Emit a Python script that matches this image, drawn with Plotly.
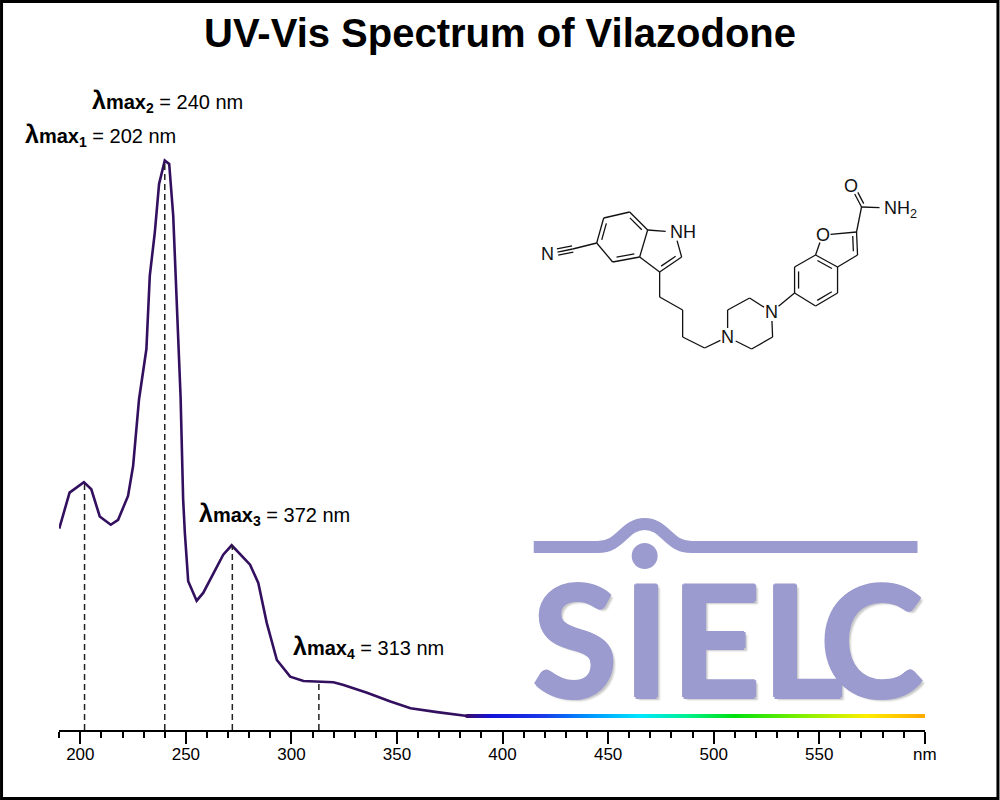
import numpy as np
import plotly.graph_objects as go

# spectrum (absorbance normalised to the 240 nm peak)
wavelength = [190, 194.9, 201.7, 205.2, 209.2, 214.4, 217.9, 222.6, 225.0, 227.8, 231.3, 232.9,
              235.3, 237.3, 240.0, 242.1, 244.0, 245.6, 247.5, 248.7, 249.5, 251.1, 255.1, 258.2,
              263.0, 267.7, 271.7, 276.4, 280.4, 284.3, 288.3, 293.1, 299.4, 305.7, 314.4, 319.9,
              324.7, 335.8, 346.9, 356.4, 369.0, 383.3]
absorbance = [0.338, 0.403, 0.422, 0.409, 0.360, 0.345, 0.354, 0.397, 0.451, 0.571, 0.662, 0.794,
              0.873, 0.960, 1.002, 0.996, 0.903, 0.758, 0.575, 0.391, 0.331, 0.243, 0.208, 0.222,
              0.258, 0.291, 0.308, 0.288, 0.273, 0.240, 0.168, 0.101, 0.071, 0.063, 0.062, 0.061,
              0.056, 0.042, 0.026, 0.014, 0.007, 0.0]

# lambda max markers
peak_nm = [202, 240, 272, 313]
peak_abs = [0.422, 1.0, 0.308, 0.062]
peak_text = ['202 nm', '240 nm', '372 nm', '313 nm']

# visible part of the baseline and its colours
vis_start, vis_end = 383.3, 600
vis_stop_nm = [383.3, 395, 420, 440, 466, 488, 510, 542, 573, 600]
vis_stop_color = ['#3a0c6b', '#1512d8', '#1a3ae8', '#0090ff', '#00e8ff', '#00f090',
                  '#00e010', '#80f000', '#ffee00', '#ffaa00']

tick_vals = [200, 250, 300, 350, 400, 450, 500, 550, 600]
tick_text = ['200', '250', '300', '350', '400', '450', '500', '550', 'nm']

# page geometry (px)
W, H = 1000, 800
ML, MR, MT, MB = 59, 74.5, 60, 70
PW, PH = W - ML - MR, H - MT - MB
Y0 = -14 / 554.3
Y1 = (716 - MT) / 554.3


def pp(x, y):
    """page pixels -> paper coords"""
    return (x - ML) / PW, (MT + PH - y) / PH


def seg(p, q, color='#111111', width=1.3):
    x0, y0 = pp(*p)
    x1, y1 = pp(*q)
    return dict(type='line', xref='paper', yref='paper', x0=x0, y0=y0, x1=x1, y1=y1,
                line=dict(color=color, width=width), layer='above')


def trim(p, q, a=0, b=0):
    p, q = np.array(p, float), np.array(q, float)
    d = q - p
    n = d / np.linalg.norm(d)
    return tuple(p + n * a), tuple(q - n * b)


def inner(p, q, c, off=4.0, f=0.17):
    p, q, c = np.array(p, float), np.array(q, float), np.array(c, float)
    d = q - p
    nrm = np.array([-d[1], d[0]]) / np.linalg.norm(d)
    if np.dot(c - (p + q) / 2, nrm) < 0:
        nrm = -nrm
    return tuple(p + d * f + nrm * off), tuple(q - d * f + nrm * off)


def side(p, q, off):
    p, q = np.array(p, float), np.array(q, float)
    d = q - p
    nrm = np.array([-d[1], d[0]]) / np.linalg.norm(d)
    return tuple(p + nrm * off), tuple(q + nrm * off)


fig = go.Figure()

fig.add_trace(go.Scatter(x=wavelength, y=absorbance, mode='lines',
                         line=dict(color='#33105f', width=2.6), hoverinfo='skip'))

# rainbow baseline for the visible range
vis_nm = np.arange(vis_start, vis_end + 0.01, 0.5)
vis_abs = np.zeros(len(vis_nm))
scale = [[(v - vis_start) / (vis_end - vis_start), c] for v, c in zip(vis_stop_nm, vis_stop_color)]
fig.add_trace(go.Scatter(x=vis_nm, y=vis_abs, mode='markers',
                         marker=dict(symbol='square', size=3.6, color=vis_nm, colorscale=scale,
                                     cmin=vis_start, cmax=vis_end, line=dict(width=0)),
                         hoverinfo='skip'))

for nm, a in zip(peak_nm, peak_abs):
    fig.add_trace(go.Scatter(x=[nm, nm], y=[Y0, a], mode='lines',
                             line=dict(color='#222222', width=1.5, dash='6px,4px'),
                             hoverinfo='skip'))

# lambda max labels (page px of left edge / vertical centre)
label_pos = [(23, 135), (90, 101), (197, 514), (291, 647)]
for i, ((lx, ly), txt) in enumerate(zip(label_pos, peak_text)):
    x, y = pp(lx, ly)
    fig.add_annotation(x=x, y=y, xref='paper', yref='paper', xanchor='left', yanchor='middle',
                       showarrow=False,
                       text="<b><span style='font-size:25px'>λ</span>max<sub>%d</sub></b> = %s" % (i + 1, txt),
                       font=dict(family='Liberation Sans, Arial', size=20, color='#000000'))

shapes = []

# ---- SIELC logo ----
logo = '#9b9bcf'
path = 'M %f %f' % pp(534, 547)
path += ' L %f %f' % pp(598, 547)
path += ' C %f %f %f %f %f %f' % (*pp(622, 547), *pp(624, 524), *pp(645, 524))
path += ' C %f %f %f %f %f %f' % (*pp(666, 524), *pp(668, 547), *pp(692, 547))
path += ' L %f %f' % pp(918, 547)
shapes.append(dict(type='path', xref='paper', yref='paper', path=path,
                   line=dict(color=logo, width=12), layer='below'))
cx0, cy0 = pp(632, 543)
cx1, cy1 = pp(658, 569)
shapes.append(dict(type='circle', xref='paper', yref='paper', x0=cx0, y0=cy1, x1=cx1, y1=cy0,
                   fillcolor=logo, line=dict(width=0), layer='below'))
bold_shadow = ('1.5px 0 0 %s, -1.5px 0 0 %s, 0 1.5px 0 %s, 0 -1.5px 0 %s, '
               '3px 3px 2px rgba(0,0,0,0.22)') % (logo, logo, logo, logo)
for ch, cx in [('S', 575), ('I', 646), ('E', 716), ('L', 803), ('C', 872)]:
    x, y = pp(cx, 636)
    fig.add_annotation(x=x, y=y, xref='paper', yref='paper', xanchor='center', yanchor='middle',
                       showarrow=False, text=ch,
                       font=dict(family='Lato, Liberation Sans', size=156, weight='bold',
                                 color=logo, shadow=bold_shadow))

# ---- molecule ----
a1, a2, a3, a4, a5, a6 = (604, 218), (630, 212), (648, 230), (640, 257), (613, 262), (597, 243)
nh, c2, c3 = (675, 232), (682, 257), (660, 272)
cn, nn = (573, 249), (548, 254)
ch1, ch2, ch3, ch4 = (660, 297), (683, 310), (683, 337), (705, 348)
n1, p1, p2, n4, p3, p4 = (728, 337), (728, 310), (750, 298), (772, 312), (773, 337), (752, 349)
b6, b7, b7a, b3a, b4, b5 = (795, 293), (795, 267), (816, 255), (838, 267), (838, 293), (816, 306)
o1, f2, f3 = (823, 235), (857, 232), (858, 255)
cam, oc, nh2 = (862, 207), (851, 186), (889, 208)

bonds = [
    trim(a1, a2), trim(a2, a3), trim(a3, a4), trim(a4, a5), trim(a5, a6), trim(a6, a1),
    trim(a3, nh, 0, 9), trim(nh, c2, 9, 0), trim(c2, c3), trim(c3, a4),
    trim(a6, cn), trim(c3, ch1), trim(ch1, ch2), trim(ch2, ch3), trim(ch3, ch4), trim(ch4, n1, 0, 8),
    trim(n1, p1, 9, 0), trim(p1, p2), trim(p2, n4, 0, 9), trim(n4, p3, 9, 0), trim(p3, p4), trim(p4, n1, 0, 9),
    trim(n4, b6, 9, 0),
    trim(b6, b7), trim(b7, b7a), trim(b7a, b3a), trim(b3a, b4), trim(b4, b5), trim(b5, b6),
    trim(b7a, o1, 0, 8), trim(o1, f2, 8, 0), trim(f2, f3), trim(f3, b3a),
    trim(f2, cam), trim(cam, nh2, 0, 9), trim(cam, oc, 0, 9),
]
ind_c = tuple(np.mean([a1, a2, a3, a4, a5, a6], axis=0))
pyr_c = tuple(np.mean([a3, nh, c2, c3, a4], axis=0))
bf_c = tuple(np.mean([b6, b7, b7a, b3a, b4, b5], axis=0))
fur_c = tuple(np.mean([b7a, o1, f2, f3, b3a], axis=0))
bonds += [inner(a6, a1, ind_c), inner(a5, a4, ind_c), inner(a2, a3, ind_c), inner(c2, c3, pyr_c),
          inner(b6, b7, bf_c), inner(b5, b4, bf_c), inner(b7a, b3a, bf_c), inner(f2, f3, fur_c)]
bonds.append(side(*trim(cam, oc, 2, 9), 3.5))
tb = trim(cn, nn, 0, 10)
bonds += [tb, side(*tb, 3.2), side(*tb, -3.2)]
for p, q in bonds:
    shapes.append(seg(p, q))

atom_labels = [('N', nn, 'center'), ('NH', (nh[0] - 7, nh[1]), 'left'), ('N', n1, 'center'),
               ('N', n4, 'center'), ('O', o1, 'center'), ('O', oc, 'center'),
               ('NH<sub>2</sub>', (nh2[0] - 7, nh2[1] + 1), 'left')]
for txt, (ax, ay), anc in atom_labels:
    x, y = pp(ax, ay)
    fig.add_annotation(x=x, y=y, xref='paper', yref='paper', xanchor=anc, yanchor='middle',
                       showarrow=False, text=txt,
                       font=dict(family='Liberation Sans, Arial', size=18, color='#111111'))

# frame round the whole picture
fx0, fy0 = pp(1.5, 1.5)
fx1, fy1 = pp(W - 1.5, H - 1.5)
shapes.append(dict(type='rect', xref='paper', yref='paper', x0=fx0, y0=fy1, x1=fx1, y1=fy0,
                   line=dict(color='#000000', width=3)))

fig.update_layout(
    width=W, height=H,
    title=dict(text='<b>UV-Vis Spectrum of Vilazodone</b>', x=0.5, xanchor='center',
               y=1 - 33 / H, yanchor='middle',
               font=dict(family='Liberation Sans, Arial', size=40, color='#000000')),
    margin=dict(l=ML, r=MR, t=MT, b=MB, autoexpand=False),
    paper_bgcolor='#ffffff', plot_bgcolor='#ffffff',
    showlegend=False,
    shapes=shapes,
    xaxis=dict(range=[189.9, 600.1], showgrid=False, zeroline=False,
               showline=True, linecolor='#000000', linewidth=2,
               tickmode='array', tickvals=tick_vals, ticktext=tick_text,
               ticks='outside', ticklen=12, tickwidth=1.5, tickcolor='#000000',
               ticklabelstandoff=-4,
               tickfont=dict(family='Liberation Sans, Arial', size=17, color='#000000'),
               minor=dict(tick0=190, dtick=10, ticks='outside', ticklen=6, tickwidth=1.5,
                          tickcolor='#000000', showgrid=False)),
    yaxis=dict(range=[Y0, Y1], visible=False, showgrid=False, zeroline=False),
)

fig.write_html("out.html", config={'displayModeBar': False},
               post_script="document.body.style.margin='0';")
